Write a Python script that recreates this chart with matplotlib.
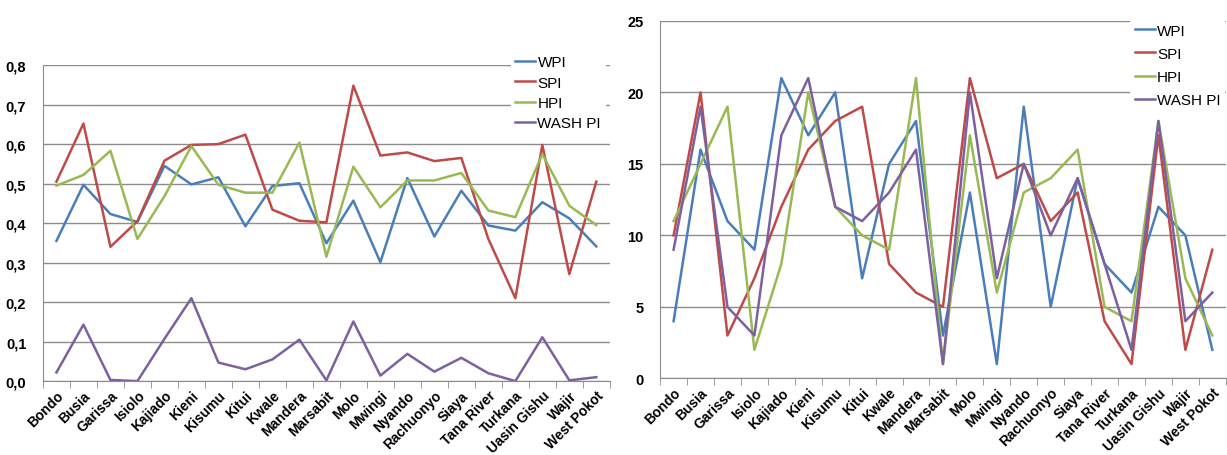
import numpy as np
import matplotlib
matplotlib.use("Agg")
import matplotlib.pyplot as plt
from matplotlib.ticker import FixedLocator, FuncFormatter

plt.rcParams['font.family'] = ['Liberation Sans', 'DejaVu Sans']

districts = ["Bondo", "Busia", "Garissa", "Isiolo", "Kajiado", "Kieni", "Kisumu",
             "Kitui", "Kwale", "Mandera", "Marsabit", "Molo", "Mwingi", "Nyando",
             "Rachuonyo", "Siaya", "Tana River", "Turkana", "Uasin Gishu", "Wajir",
             "West Pokot"]

# index values (left chart)
wpi = [0.355, 0.497, 0.423, 0.403, 0.545, 0.498, 0.516, 0.392, 0.494, 0.501, 0.349,
       0.457, 0.301, 0.514, 0.366, 0.482, 0.394, 0.381, 0.453, 0.412, 0.341]
spi = [0.505, 0.652, 0.340, 0.405, 0.558, 0.598, 0.600, 0.624, 0.434, 0.406, 0.402,
       0.748, 0.571, 0.579, 0.557, 0.565, 0.360, 0.210, 0.598, 0.271, 0.505]
hpi = [0.495, 0.522, 0.583, 0.360, 0.468, 0.595, 0.497, 0.477, 0.477, 0.604, 0.315,
       0.543, 0.440, 0.508, 0.508, 0.527, 0.432, 0.415, 0.575, 0.444, 0.395]
washpi = [0.022, 0.143, 0.003, 0.000, 0.107, 0.210, 0.047, 0.030, 0.055, 0.105, 0.002,
          0.151, 0.014, 0.069, 0.024, 0.059, 0.020, 0.000, 0.111, 0.002, 0.010]

# ranks (right chart)
wpi_rank = [4, 16, 11, 9, 21, 17, 20, 7, 15, 18, 3, 13, 1, 19, 5, 14, 8, 6, 12, 10, 2]
spi_rank = [10, 20, 3, 7, 12, 16, 18, 19, 8, 6, 5, 21, 14, 15, 11, 13, 4, 1, 17, 2, 9]
hpi_rank = [11, 15, 19, 2, 8, 20, 12, 10, 9, 21, 1, 17, 6, 13, 14, 16, 5, 4, 18, 7, 3]
wash_rank = [9, 19, 5, 3, 17, 21, 12, 11, 13, 16, 1, 20, 7, 15, 10, 14, 8, 2, 18, 4, 6]

labels = ["WPI", "SPI", "HPI", "WASH PI"]
colors = ["#4A7EBB", "#BE4B48", "#98B954", "#7D60A0"]
grid_c = "#8C8C8C"

fig = plt.figure(figsize=(12.27, 4.56), dpi=100)
ax1 = fig.add_axes([0.035, 0.162, 0.462, 0.693])
ax2 = fig.add_axes([0.538, 0.168, 0.461, 0.784])

x = np.arange(len(districts))


def style(ax, ymax, ystep, fmt):
    ax.set_xlim(-0.5, len(districts) - 0.5)
    ax.set_ylim(0, ymax)
    ax.yaxis.set_major_locator(FixedLocator(np.arange(0, ymax + ystep / 2, ystep)))
    ax.yaxis.set_major_formatter(FuncFormatter(fmt))
    ax.grid(axis='y', color=grid_c, lw=1.0, zorder=0)
    for s in ['top', 'right']:
        ax.spines[s].set_visible(False)
    for s in ['left', 'bottom']:
        ax.spines[s].set_color(grid_c)
    ax.set_xticks(x)
    ax.set_xticklabels(districts, rotation=45, ha='right', rotation_mode='anchor',
                       fontsize=10, fontweight='bold')
    ax.tick_params(axis='x', which='major', length=0, pad=5)
    ax.set_xticks(np.arange(-0.5, len(districts), 1), minor=True)
    ax.tick_params(axis='x', which='minor', length=5, color=grid_c)
    ax.tick_params(axis='y', length=0, pad=12, labelsize=10.5)
    for t in ax.get_yticklabels():
        t.set_fontweight('bold')


for ax, series in [(ax1, [wpi, spi, hpi, washpi]),
                   (ax2, [wpi_rank, spi_rank, hpi_rank, wash_rank])]:
    for s, c, lab in zip(series, colors, labels):
        ax.plot(x, s, color=c, lw=1.8, label=lab, zorder=3)

style(ax1, 0.8, 0.1, lambda v, p: ("%.1f" % v).replace('.', ','))
style(ax2, 25, 5, lambda v, p: "%d" % v)

for ax, anchor, sp in [(ax1, (0.410, 0.9035), 0.42), (ax2, (0.915, 0.973), 0.6)]:
    leg = ax.legend(loc='upper left', bbox_to_anchor=anchor,
                    bbox_transform=fig.transFigure, frameon=True,
                    fontsize=11, handlelength=1.3, handletextpad=0.15,
                    labelspacing=sp, borderpad=0.3)
    leg.get_frame().set_edgecolor('none')
    leg.get_frame().set_facecolor('white')
    leg.get_frame().set_alpha(1)
    leg.set_zorder(5)

fig.savefig("out.png", dpi=100)
